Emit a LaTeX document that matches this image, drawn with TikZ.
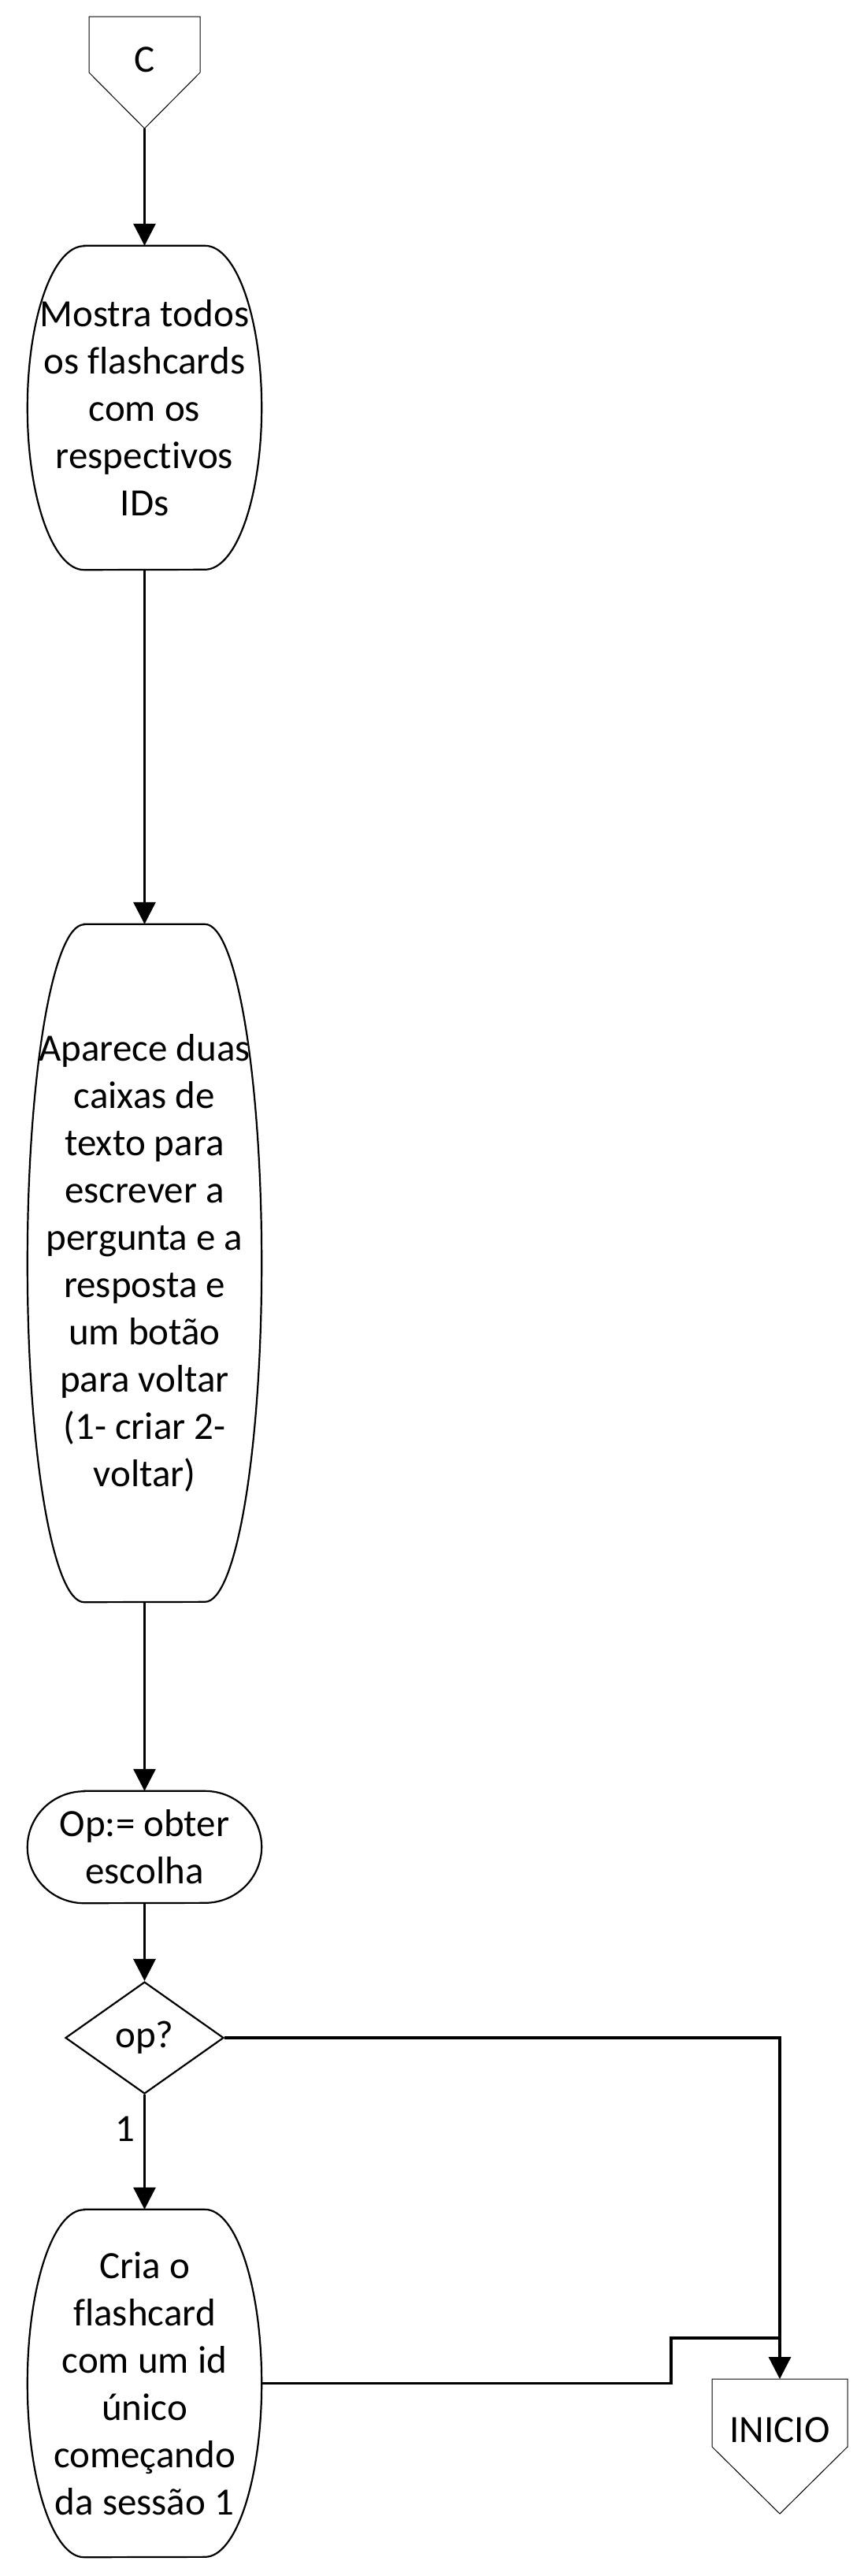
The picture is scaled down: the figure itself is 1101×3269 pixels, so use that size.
\documentclass[tikz,border=0pt]{standalone}
\usepackage{fontspec}
\setmainfont[Ligatures=NoCommon]{Carlito}
\usetikzlibrary{shapes.geometric,arrows.meta}
\tikzset{
	txt/.style={font=\fontsize{49pt}{60pt}\selectfont,align=center},
	box/.style={txt,minimum width=297pt,inner sep=0pt},
	edge/.style={line width=2.2pt},
	dec/.style={txt,diamond,draw,line width=2.2pt,minimum width=201pt,minimum height=142pt,inner sep=0pt},
	page/.style={line width=1pt},
	wire/.style={line width=3.2pt},
	flow/.style={wire,-{Triangle[width=28pt,length=28pt]}}
}
\newcommand{\roundout}[2]{\draw[edge]([xshift=72pt]#1.north west)--([xshift=-72pt]#1.north east) arc[start angle=90,end angle=-90,x radius=72pt,y radius=#2]--([xshift=72pt]#1.south west) arc[start angle=270,end angle=90,x radius=72pt,y radius=#2]--cycle;}
\begin{document}
\begin{tikzpicture}[x=1pt,y=-1pt]
	\fill[white](0,0) rectangle (1101,3269);
	\useasboundingbox (0,0) rectangle (1101,3269);
	\draw[page](113,21)--(254,21)--(254,92)--(183.5,163)--(113,92)--cycle;
	\node[txt](c) at (183.5,76){C};
	\coordinate (ctip) at (183.5,163);
	\node[box,minimum height=411pt](mostra) at (183.5,517.5){Mostra todos\\os flashcards\\com os\\respectivos\\IDs};
	\roundout{mostra}{205.5pt}
	\node[box,minimum height=860pt](aparece) at (183.5,1603){Aparece duas\\caixas de\\texto para\\escrever a\\pergunta e a\\resposta e\\um botão\\para voltar\\(1- criar 2-\\voltar)};
	\roundout{aparece}{430pt}
	\node[box,minimum height=142pt](obter) at (183.5,2344){Op:= obter\\escolha};
	\roundout{obter}{71pt}
	\node[dec](op) at (183.5,2586){op?};
	\node[box,minimum height=441pt](cria) at (183.5,3024.5){Cria o\\flashcard\\com um id\\único\\começando\\da sessão 1};
	\roundout{cria}{220.5pt}
	\draw[page](904,3019)--(1076,3019)--(1076,3105)--(990,3190)--(904,3105)--cycle;
	\node[txt](inicio) at (990,3083.5){INICIO};
	\coordinate (itop) at (990,3019);
	\coordinate (join) at (990,2967);
	\draw[flow](ctip)--(mostra);
	\draw[flow](mostra)--(aparece);
	\draw[flow](aparece)--(obter);
	\draw[flow](obter)--(op);
	\draw[flow](op)--(cria)node[txt,pos=0.3,left,inner sep=11pt]{1};
	\draw[flow](op.east)-|(itop);
	\draw[wire](cria.east)-|([xshift=-138pt]join)--(join);
\end{tikzpicture}
\end{document}
